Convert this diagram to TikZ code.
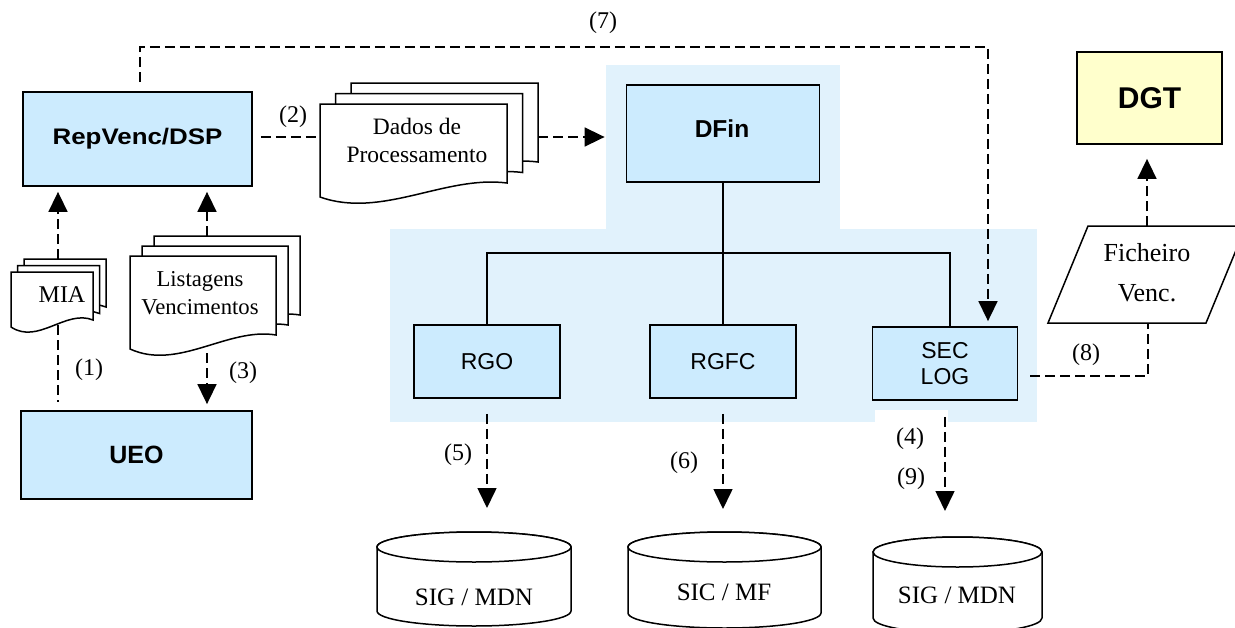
\documentclass[tikz,border=0pt]{standalone}
\usepackage{fontspec}
\setmainfont{Liberation Serif}
\setsansfont{Liberation Sans}
\newfontfamily\widesans{Liberation Sans}[FakeStretch=1.15]
\usetikzlibrary{arrows.meta,calc}
\definecolor{boxblue}{HTML}{CCEBFE}
\definecolor{panelblue}{HTML}{E1F2FC}
\definecolor{dgtyellow}{HTML}{FFFFCC}
% document page: x0, ytop, x1, ybottom-left, rise d, wave amplitude a
\newcommand{\docpage}[6]{%
  \filldraw[docline] ({#1},{#2}) -- ({#3},{#2}) -- ({#3},{#4-#5})
    .. controls ({#1+0.67*(#3-#1)},{#4-#6}) and ({#1+0.33*(#3-#1)},{#4+#6}) .. ({#1},{#4}) -- cycle;}
% cylinder: x0, x1, rx, y top-ellipse centre, y bottom-ellipse centre, ry
\newcommand{\dbcyl}[6]{%
  \filldraw[docline] ({#1},{#4}) -- ({#1},{#5}) arc[start angle=180,end angle=0,x radius=#3,y radius=#6]
    -- ({#2},{#4}) arc[start angle=0,end angle=-180,x radius=#3,y radius=#6] -- cycle;
  \draw[docline] ({(#1+#2)/2},{#4}) ellipse[x radius=#3,y radius=#6];}
\begin{document}
\begin{tikzpicture}[x=1pt,y=-1pt,
  box/.style={draw, line width=1.8pt, fill=boxblue, inner sep=0pt, align=center},
  docline/.style={draw, line width=1.5pt, fill=white},
  flow/.style={line width=1.6pt, dash pattern=on 10pt off 5pt, -{Triangle[length=20pt,width=19pt]}},
  link/.style={line width=1.6pt, dash pattern=on 10pt off 5pt},
  tree/.style={line width=1.6pt},
  lbl/.style={font=\fontsize{24}{28}\selectfont, inner sep=0pt},
  txt/.style={inner sep=0pt, align=center},
  inv/.style={inner sep=0pt, outer sep=0pt}]
\useasboundingbox[fill=white] (0,0) rectangle (1235,627);

% background panels
\fill[panelblue] (606,65) rectangle (840,229);
\fill[panelblue] (390,229) rectangle (1037,422);
\fill[white] (875,410) rectangle (948,430);

% boxes
\node[box, minimum width=229pt, minimum height=94pt, font=\widesans\bfseries\fontsize{22.5}{26}\selectfont] (rep) at (137.5,139) {RepVenc/DSP};
\node[box, minimum width=231pt, minimum height=88pt, font=\sffamily\bfseries\fontsize{25}{29}\selectfont] (ueo) at (136.5,455) {UEO};
\node[box, minimum width=193pt, minimum height=97pt] (dfin) at (723,133.5) {};
\node[txt, font=\sffamily\bfseries\fontsize{24.5}{28}\selectfont] (dfintxt) at (722,129) {DFin};
\node[box, minimum width=146pt, minimum height=73pt, font=\sffamily\fontsize{23}{27}\selectfont] (rgo) at (487,361.5) {RGO};
\node[box, minimum width=146pt, minimum height=73pt, font=\sffamily\fontsize{23}{27}\selectfont] (rgfc) at (723,361.5) {RGFC};
\node[box, minimum width=145pt, minimum height=73pt, font=\sffamily\fontsize{23}{26.7}\selectfont] (sec) at (945,363.5) {SEC\\LOG};
\node[box, fill=dgtyellow, minimum width=145pt, minimum height=92pt, font=\sffamily\bfseries\fontsize{30}{34}\selectfont] (dgt) at (1149.5,98) {DGT};

% documents
\docpage{351}{83}{538}{176}{14}{22}
\docpage{335.5}{93.5}{522.5}{186.5}{14}{22}
\docpage{320}{104}{507}{197}{14}{22}
\node[txt, font=\fontsize{23.5}{28}\selectfont] (dados) at (417,140) {Dados de\\Processamento};

\docpage{24}{259}{106}{314}{7}{18}
\docpage{17.5}{265.5}{99.5}{320.5}{7}{18}
\docpage{11}{272}{93}{327}{7}{18}
\node[txt, font=\fontsize{24}{28}\selectfont] (mia) at (62,295) {MIA};

\docpage{154}{236}{300}{329}{14}{22}
\docpage{142}{246}{288}{339}{14}{22}
\docpage{130}{256}{276}{349}{14}{22}
\node[txt, font=\fontsize{22.7}{28}\selectfont] (list) at (200,293) {Listagens\\Vencimentos};

% parallelogram
\filldraw[docline] (1088,226) -- (1246,226) -- (1206,323) -- (1048,323) -- cycle;
\node[txt, font=\fontsize{26}{40}\selectfont] (fich) at (1147,273) {Ficheiro\\Venc.};

% databases
\dbcyl{377}{571}{97}{547}{611}{15}
\node[inv, minimum width=194pt, minimum height=95pt] (db1) at (474,578.5) {};
\node[txt, font=\fontsize{25}{29}\selectfont] (db1txt) at (474,597) {SIG / MDN};
\dbcyl{628}{821}{96.5}{547}{613}{15}
\node[inv, minimum width=193pt, minimum height=96pt] (db2) at (724.5,580) {};
\node[txt, font=\fontsize{25}{29}\selectfont] (db2txt) at (724,592) {SIC / MF};
\dbcyl{873}{1042}{84.5}{552}{618}{15}
\node[inv, minimum width=169pt, minimum height=96pt] (db3) at (957.5,585) {};
\node[txt, font=\fontsize{25}{29}\selectfont] (db3txt) at (957,595) {SIG / MDN};

% coordinates
\coordinate (c7a) at (140,47);
\coordinate (c7b) at (988,47);
\coordinate (dadosL) at (320,137);
\coordinate (dadosR) at (538,137);
\coordinate (miaT) at (58,259);
\coordinate (miaB) at (58,325);
\coordinate (listT) at (207,236);
\coordinate (listB) at (207,353);
\coordinate (tr) at (950,253);
\coordinate (s8) at (1018,376);
\coordinate (fichB) at (1148,323);
\coordinate (fichT) at (1147,226);

% tree
\draw[tree] (dfin.south) -- (rgfc.north);
\draw[tree] (rgo.north) |- (tr) -- (sec.north -| tr);

% connectors
\draw[flow, shorten <=9pt, shorten >=5pt] (rep.north -| c7a) -- (c7a) -- (c7b) -- (sec.north -| c7b);
\draw[link, shorten <=8pt] (rep.east |- dadosL) -- (dadosL);
\draw[flow, shorten >=21pt] (dadosR) -- (dfin.west |- dadosR);
\draw[flow, shorten >=5pt] (miaT) -- (rep.south -| miaT);
\draw[flow, shorten >=5pt] (listT) -- (rep.south -| listT);
\draw[link, shorten >=8pt] (miaB) -- (ueo.north -| miaB);
\draw[flow, shorten >=6pt] (listB) -- (ueo.north -| listB);
\draw[flow, shorten <=15pt, shorten >=23pt] (rgo.south) -- (rgo.south |- db1.north);
\draw[flow, shorten <=15pt, shorten >=23pt] (rgfc.south) -- (rgfc.south |- db2.north);
\draw[flow, shorten <=16pt, shorten >=26pt] (sec.south) -- (sec.south |- db3.north);
\draw[link, shorten <=12pt] (sec.east |- s8) -| (fichB);
\draw[flow, shorten >=14pt] (fichT) -- (dgt.south -| fichT);

% labels
\node[lbl] (l1) at (89,370) {(1)};
\node[lbl] (l2) at (293,117) {(2)};
\node[lbl] (l3) at (243,373) {(3)};
\node[lbl] (l4) at (910,439) {(4)};
\node[lbl] (l5) at (458,455) {(5)};
\node[lbl] (l6) at (684,463) {(6)};
\node[lbl] (l7) at (603,23) {(7)};
\node[lbl] (l8) at (1086,355) {(8)};
\node[lbl] (l9) at (911,479) {(9)};
\end{tikzpicture}
\end{document}
